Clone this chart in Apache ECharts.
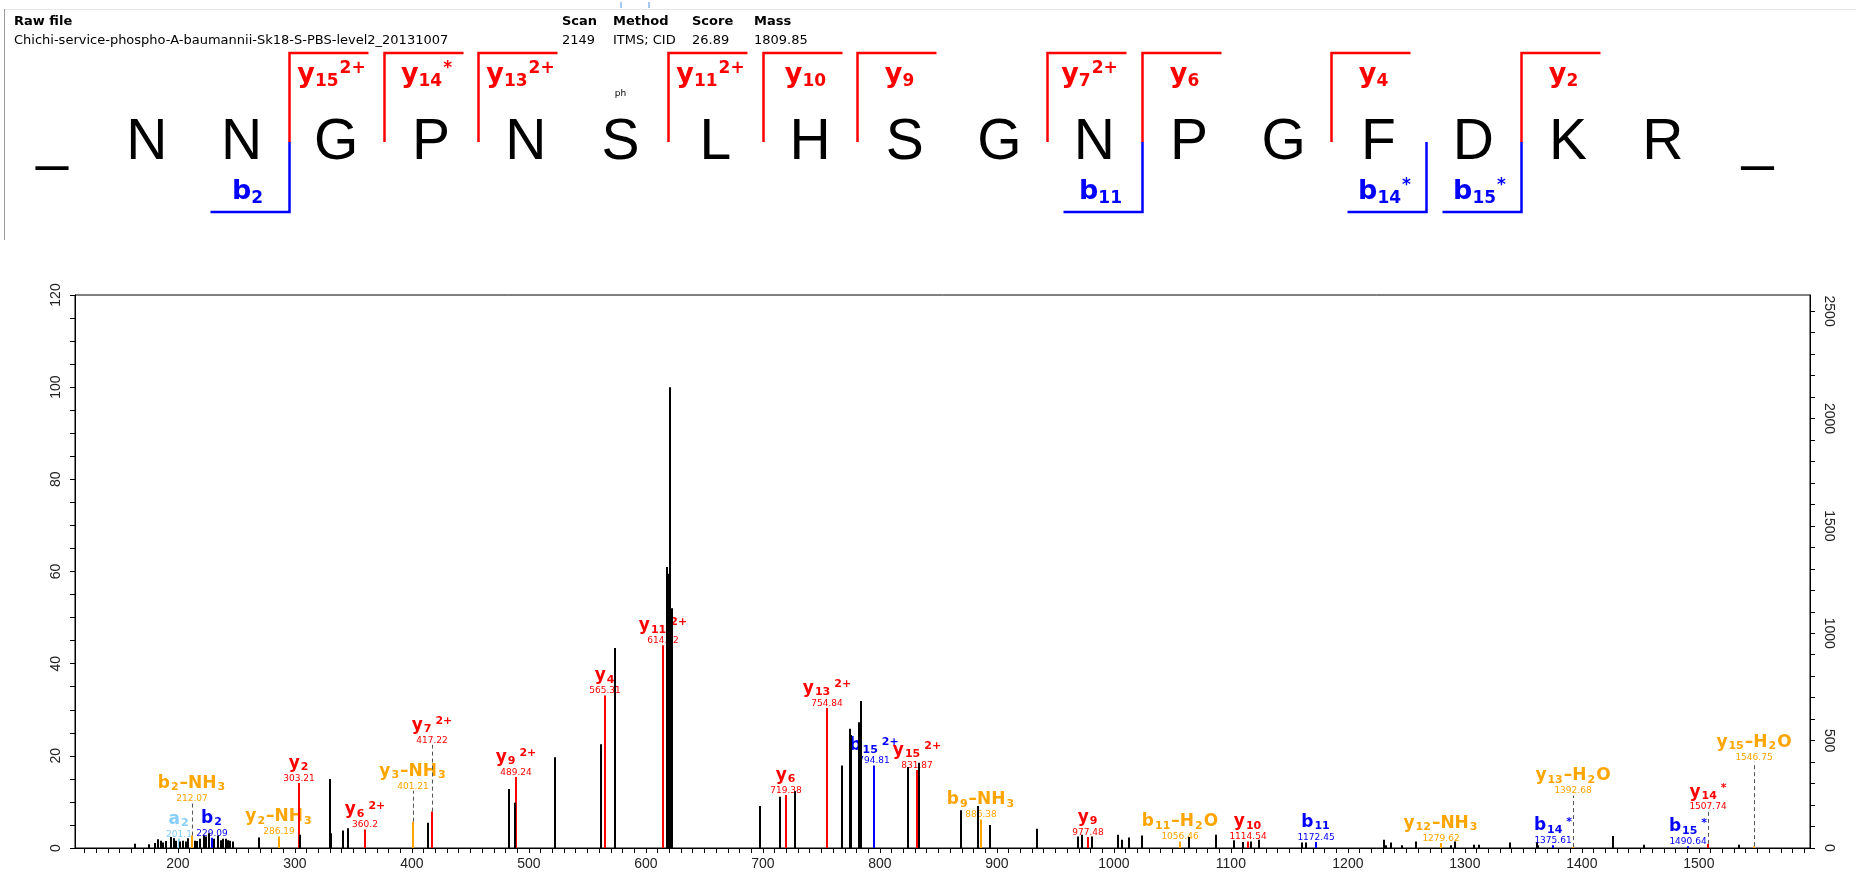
<!DOCTYPE html>
<html><head><meta charset="utf-8">
<script src="https://cdn.jsdelivr.net/npm/echarts@6/dist/echarts.min.js"></script>
<style>html,body{margin:0;padding:0;background:#fff}#c{width:1856px;height:878px}</style>
</head><body><div id="c"></div>
<script>
// ---------------- DATA ----------------
const rawFile = 'Chichi-service-phospho-A-baumannii-Sk18-S-PBS-level2_20131007';
const headerFields = ['Scan', 'Method', 'Score', 'Mass'];
const headerValues = ['2149', 'ITMS; CID', '26.89', '1809.85'];

const sequence = ['_','N','N','G','P','N','S','L','H','S','G','N','P','G','F','D','K','R','_'];
const phosphoSite = 6; // index in sequence shown with "ph"
const peptideLength = 17;
const yIonNumbers = [15, 14, 13, 11, 10, 9, 7, 6, 4, 2];
const yIonLabels  = ['y_15^2+', 'y_14^*', 'y_13^2+', 'y_11^2+', 'y_10', 'y_9', 'y_7^2+', 'y_6', 'y_4', 'y_2'];
const bIonNumbers = [2, 11, 14, 15];
const bIonLabels  = ['b_2', 'b_11', 'b_14^*', 'b_15^*'];

// unassigned peaks (m/z, relative intensity %)
const peakMz = [163.0,175.0,180.5,182.9,185.1,187.5,190.0,194.3,196.7,198.3,202.0,204.1,206.5,209.0,214.2,216.4,218.8,221.9,224.3,226.5,230.5,234.2,237.2,238.8,240.9,242.8,244.9,247.1,
  269.1,304.1,329.6,330.8,340.9,345.5,413.4,482.7,488.2,522.0,561.3,573.2,617.6,618.9,621.0,621.9,
  697.5,714.3,727.6,767.4,774.8,775.7,781.9,783.9,823.9,833.0,869.4,883.9,893.8,934.7,969.1,972.5,981.5,
  1003.8,1006.8,1013.1,1024.2,1064.1,1087.0,1102.4,1110.4,1117.2,1124.0,1161.0,1164.4,1231.1,1232.4,1236.6,1245.9,1257.8,
  1288.4,1291.4,1307.5,1311.8,1338.6,1361.5,1362.8,1426.9,1453.3,1534.0];
const peakInt = [0.9,0.8,1.1,1.9,1.6,1.2,1.5,2.4,2.1,1.6,1.4,1.6,1.4,2.1,1.6,1.5,2.0,2.7,2.5,3.2,2.0,2.7,1.7,2.0,2.0,1.7,1.6,1.4,
  2.3,2.9,15.0,3.2,3.8,4.3,5.5,12.8,9.8,19.7,22.5,43.4,61.0,59.5,100,52.0,
  9.1,11.1,12.3,17.9,25.9,24.5,27.3,31.9,17.6,18.5,8.2,9.1,5.0,4.2,2.5,2.9,2.5,
  2.9,1.8,2.3,2.7,2.4,2.9,1.7,1.3,1.4,1.8,1.2,1.2,1.8,0.6,1.2,0.6,1.4,
  0.6,1.4,0.7,0.7,1.2,1.2,0.6,2.6,0.7,0.7];

// assigned fragment ions
const ionNames = ['a_2','b_2–NH_3','b_2','y_2–NH_3','y_2','y_6^2+','y_3–NH_3','y_7^2+','y_9^2+','y_4','y_11^2+','y_6','y_13^2+','b_15^2+','y_15^2+','b_9–NH_3','y_9','b_11–H_2O','y_10','b_11','y_12–NH_3','b_14^*','y_13–H_2O','b_15^*','y_14^*','y_15–H_2O'];
const ionMz    = [201.1,212.07,229.09,286.19,303.21,360.2,401.21,417.22,489.24,565.31,614.32,719.38,754.84,794.81,831.87,886.38,977.48,1056.46,1114.54,1172.45,1279.62,1375.61,1392.68,1490.64,1507.74,1546.75];
const ionInt   = [2.0,2.7,2.2,2.5,14.1,4.0,5.7,7.9,15.4,33.1,44.0,11.5,30.4,17.9,16.9,6.2,2.4,1.4,1.4,1.3,1.1,0.6,0.2,0.4,0.9,0.4];
const ionType  = ['a','loss','b','loss','y','y','loss','y','y','y','y','y','y','b','y','loss','y','loss','y','b','loss','b','loss','b','y','loss'];
// level (%) of the label when it is lifted above the peak with a dashed leader
const ionLabelLevel = [null,9.8,null,null,null,null,12.4,22.4,null,null,null,null,null,null,null,null,null,null,null,null,null,null,11.4,null,7.9,18.7];

const xMin = 112, xMax = 1595;
const yLeftMax = 120, yRightMax = 2575;

// ---------------- STYLE / LAYOUT ----------------
const COL = { y: '#ff0000', b: '#0000ff', a: '#87cefa', loss: '#ffa500' };
const LABEL_FONT = '"DejaVu Sans", "Liberation Sans", sans-serif';
const SEQ_FONT = '"Liberation Sans Narrow", "Liberation Sans", "Arial Narrow", sans-serif';

function richName(name) {
  let out = '', i = 0;
  while (i < name.length) {
    const c = name[i];
    if (c === '_') {
      let j = i + 1; while (j < name.length && /[0-9]/.test(name[j])) j++;
      out += '{s|' + name.slice(i + 1, j) + '}'; i = j;
    } else if (c === '^') {
      out += '{p|' + name.slice(i + 1) + '}'; i = name.length;
    } else {
      let j = i; while (j < name.length && name[j] !== '_' && name[j] !== '^') j++;
      out += '{m|' + name.slice(i, j) + '}'; i = j;
    }
  }
  return out;
}
function specRich(col) {
  return {
    m: { fontSize: 17, fontWeight: 'bold', fontFamily: LABEL_FONT, fill: col, lineHeight: 19, verticalAlign: 'middle' },
    s: { fontSize: 11, fontWeight: 'bold', fontFamily: LABEL_FONT, fill: col, lineHeight: 12, verticalAlign: 'bottom', padding: [0, 1, 0, 1] },
    p: { fontSize: 11, fontWeight: 'bold', fontFamily: LABEL_FONT, fill: col, lineHeight: 11, verticalAlign: 'top', padding: [0, 0, 0, 3] },
    v: { fontSize: 9, fontFamily: LABEL_FONT, fill: col, lineHeight: 11 }
  };
}
function headRich(col) {
  return {
    m: { fontSize: 27, fontWeight: 'bold', fontFamily: LABEL_FONT, fill: col, lineHeight: 30, verticalAlign: 'middle' },
    s: { fontSize: 17, fontWeight: 'bold', fontFamily: LABEL_FONT, fill: col, lineHeight: 20, verticalAlign: 'bottom' },
    p: { fontSize: 17, fontWeight: 'bold', fontFamily: LABEL_FONT, fill: col, lineHeight: 17, verticalAlign: 'top', padding: [0, 0, 0, 1] }
  };
}

// header layout (pixels)
const H = { x0: 52, pitch: 94.75, letterY: 143, redTop: 53, split: 142, blueBottom: 212, armLen: 79, labelDX: 42, redLabelY: 75, blueLabelY: 192 };
const fieldX = [562, 613, 692, 754];

const graphics = [];
graphics.push({ type: 'line', shape: { x1: 4, y1: 9.5, x2: 1856, y2: 9.5 }, style: { stroke: '#e6e6e6', lineWidth: 1 } });
graphics.push({ type: 'line', shape: { x1: 4.5, y1: 9, x2: 4.5, y2: 240 }, style: { stroke: '#9a9a9a', lineWidth: 1 } });
graphics.push({ type: 'text', x: 14, y: 22, style: { text: 'Raw file', font: 'bold 13px "DejaVu Sans"', fill: '#000', verticalAlign: 'middle' } });
graphics.push({ type: 'text', x: 14, y: 41, style: { text: rawFile, font: '13px "DejaVu Sans"', fill: '#000', verticalAlign: 'middle' } });
headerFields.forEach((f, i) => {
  graphics.push({ type: 'text', x: fieldX[i], y: 22, style: { text: f, font: 'bold 13px "DejaVu Sans"', fill: '#000', verticalAlign: 'middle' } });
  graphics.push({ type: 'text', x: fieldX[i], y: 41, style: { text: headerValues[i], font: '13px "DejaVu Sans"', fill: '#000', verticalAlign: 'middle' } });
});
const seqX = i => H.x0 + H.pitch * i;
sequence.forEach((ch, i) => {
  graphics.push({ type: 'text', x: seqX(i), y: H.letterY, style: { text: ch, font: '57px ' + SEQ_FONT, fill: '#000', align: 'center', verticalAlign: 'middle' } });
});
graphics.push({ type: 'text', x: seqX(phosphoSite), y: 94, style: { text: 'ph', font: '9px "DejaVu Sans"', fill: '#000', align: 'center', verticalAlign: 'middle' } });
graphics.push({ type: 'line', shape: { x1: seqX(phosphoSite) + 0.5, y1: 2, x2: seqX(phosphoSite) + 0.5, y2: 8 }, style: { stroke: '#4a8fe0', lineWidth: 1 } });
graphics.push({ type: 'line', shape: { x1: seqX(phosphoSite) + 28.5, y1: 2, x2: seqX(phosphoSite) + 28.5, y2: 8 }, style: { stroke: '#4a8fe0', lineWidth: 1 } });
yIonNumbers.forEach((n, k) => {
  const bx = Math.round(seqX(peptideLength - n + 0.5)) + 0.5;
  graphics.push({ type: 'polyline', shape: { points: [[bx, H.split], [bx, H.redTop], [bx + H.armLen, H.redTop]] }, style: { stroke: COL.y, lineWidth: 2.5, fill: null } });
  graphics.push({ type: 'text', x: bx + H.labelDX, y: H.redLabelY, style: { text: richName(yIonLabels[k]), rich: headRich(COL.y), align: 'center', verticalAlign: 'middle' } });
});
bIonNumbers.forEach((n, k) => {
  const bx = Math.round(seqX(n + 0.5)) + 0.5;
  graphics.push({ type: 'polyline', shape: { points: [[bx, H.split], [bx, H.blueBottom], [bx - H.armLen, H.blueBottom]] }, style: { stroke: COL.b, lineWidth: 2.5, fill: null } });
  graphics.push({ type: 'text', x: bx - H.labelDX, y: H.blueLabelY, style: { text: richName(bIonLabels[k]), rich: headRich(COL.b), align: 'center', verticalAlign: 'middle' } });
});

// ---------------- CHART ----------------
const chart = echarts.init(document.getElementById('c'), null, { renderer: 'canvas' });
const axisLabelBase = { color: '#222', fontFamily: '"Liberation Sans", sans-serif', fontSize: 14 };
chart.setOption({
  animation: false,
  backgroundColor: '#fff',
  grid: { left: 75, right: 46, top: 295, bottom: 30, show: true, borderColor: '#000', borderWidth: 1, outerBoundsMode: 'none', containLabel: false },
  xAxis: {
    type: 'value', min: xMin, max: xMax, splitNumber: 148, minInterval: 10, maxInterval: 10,
    axisLine: { show: true, lineStyle: { color: '#000', width: 1 } },
    axisTick: { show: true, length: 5, lineStyle: { color: '#000' } },
    axisLabel: Object.assign({}, axisLabelBase, { margin: 9, showMinLabel: false, showMaxLabel: false, formatter: v => (Math.abs(v % 100) < 1e-6 ? String(v) : '') }),
    splitLine: { show: false }
  },
  yAxis: [
    {
      type: 'value', position: 'left', min: 0, max: yLeftMax, interval: 5,
      axisLine: { show: true, lineStyle: { color: '#000' } },
      axisTick: { show: true, length: 5, lineStyle: { color: '#000' } },
      axisLabel: Object.assign({}, axisLabelBase, { rotate: 90, margin: 12, formatter: v => (v % 20 === 0 ? String(v) : '') }),
      splitLine: { show: false }
    },
    {
      type: 'value', position: 'right', min: 0, max: yRightMax, interval: 100,
      axisLine: { show: true, lineStyle: { color: '#000' } },
      axisTick: { show: true, length: 5, lineStyle: { color: '#000' } },
      axisLabel: Object.assign({}, axisLabelBase, { rotate: -90, margin: 12, showMaxLabel: false, formatter: v => (v % 500 === 0 ? String(v) : '') }),
      splitLine: { show: false }
    }
  ],
  graphic: graphics,
  series: [
    {
      type: 'custom', name: 'ions', xAxisIndex: 0, yAxisIndex: 0, z: 2, clip: false, silent: true,
      data: ionMz.map((m, i) => [m, ionInt[i]]),
      renderItem: (params, api) => {
        const i = params.dataIndex;
        const mz = api.value(0), it = api.value(1);
        const p0 = api.coord([mz, 0]);
        const p1 = api.coord([mz, it]);
        const x = Math.round(p0[0]);
        const col = COL[ionType[i]];
        const lvl = ionLabelLevel[i];
        const yl = lvl != null ? api.coord([mz, lvl])[1] : p1[1];
        const children = [
          { type: 'line', shape: { x1: x, y1: p0[1], x2: x, y2: p1[1] }, style: { stroke: col, lineWidth: 2 } }
        ];
        if (lvl != null) {
          children.push({ type: 'line', shape: { x1: x + 0.5, y1: p1[1], x2: x + 0.5, y2: yl }, style: { stroke: '#555', lineWidth: 1, lineDash: [4, 3] } });
        }
        children.push({ type: 'text', x: x, y: yl + 1, style: { text: richName(ionNames[i]) + '\n{v|' + ionMz[i] + '}', rich: specRich(col), align: 'center', verticalAlign: 'bottom' } });
        return { type: 'group', children };
      }
    },
    {
      type: 'custom', name: 'peaks', xAxisIndex: 0, yAxisIndex: 0, z: 3, clip: true, silent: true,
      data: peakMz.map((m, i) => [m, peakInt[i]]),
      renderItem: (params, api) => {
        const p0 = api.coord([api.value(0), 0]);
        const p1 = api.coord([api.value(0), api.value(1)]);
        const x = Math.round(p0[0]);
        return { type: 'line', shape: { x1: x, y1: p0[1], x2: x, y2: p1[1] }, style: { stroke: '#000', lineWidth: 2 } };
      }
    }
  ]
});
</script></body></html>
